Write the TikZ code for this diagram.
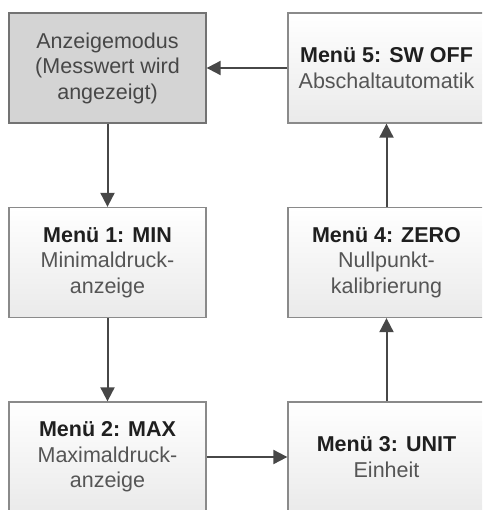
\documentclass[tikz,border=0pt]{standalone}
\usepackage{fontspec}
\setmainfont{Liberation Sans}
\usepackage{xcolor}
\usetikzlibrary{arrows.meta}

\definecolor{boxline}{HTML}{8A8A8A}
\definecolor{boxbottom}{HTML}{EAEAEA}
\definecolor{modefill}{HTML}{D4D4D4}
\definecolor{arrowgray}{HTML}{474747}
\definecolor{subtext}{HTML}{555555}

\begin{document}
\begin{tikzpicture}[x=1pt,y=1pt]
		\tikzstyle{menubox}=[draw=boxline, line width=1.3pt, top color=white, bottom color=boxbottom,
			minimum width=197pt, minimum height=110pt, inner sep=0pt, align=center,
			font=\fontsize{21.5}{25.5}\selectfont, text=subtext]
		\tikzstyle{modebox}=[menubox, draw=gray!90!black, fill=modefill, top color=modefill, bottom color=modefill, text=black!72]
		\tikzstyle{flow}=[draw=arrowgray, line width=2pt, -{Triangle[length=14pt,width=14pt]}]
		\clip (0,0) rectangle (482,-510);
		\node [modebox] (mode) at (107.5,-68) {Anzeigemodus\\(Messwert wird\\angezeigt)};
		\node [menubox] (min) at (107.5,-262.5) {\textcolor{black!88}{\textbf{Menü 1: MIN}}\\Minimaldruck-\\anzeige};
		\node [menubox] (max) at (107.5,-457) {\textcolor{black!88}{\textbf{Menü 2: MAX}}\\Maximaldruck-\\anzeige};
		\node [menubox] (unit) at (386.5,-457) {\textcolor{black!88}{\textbf{Menü 3: UNIT}}\\Einheit};
		\node [menubox] (zero) at (386.5,-262.5) {\textcolor{black!88}{\textbf{Menü 4: ZERO}}\\Nullpunkt-\\kalibrierung};
		\node [menubox] (swoff) at (386.5,-68) {\textcolor{black!88}{\textbf{Menü 5: SW OFF}}\\Abschaltautomatik};
		% Pfeile
		\draw [flow] (swoff) -- (mode);
		\draw [flow] (mode) -- (min);
		\draw [flow] (min) -- (max);
		\draw [flow] (max) -- (unit);
		\draw [flow] (unit) -- (zero);
		\draw [flow] (zero) -- (swoff);
\end{tikzpicture}
\end{document}
